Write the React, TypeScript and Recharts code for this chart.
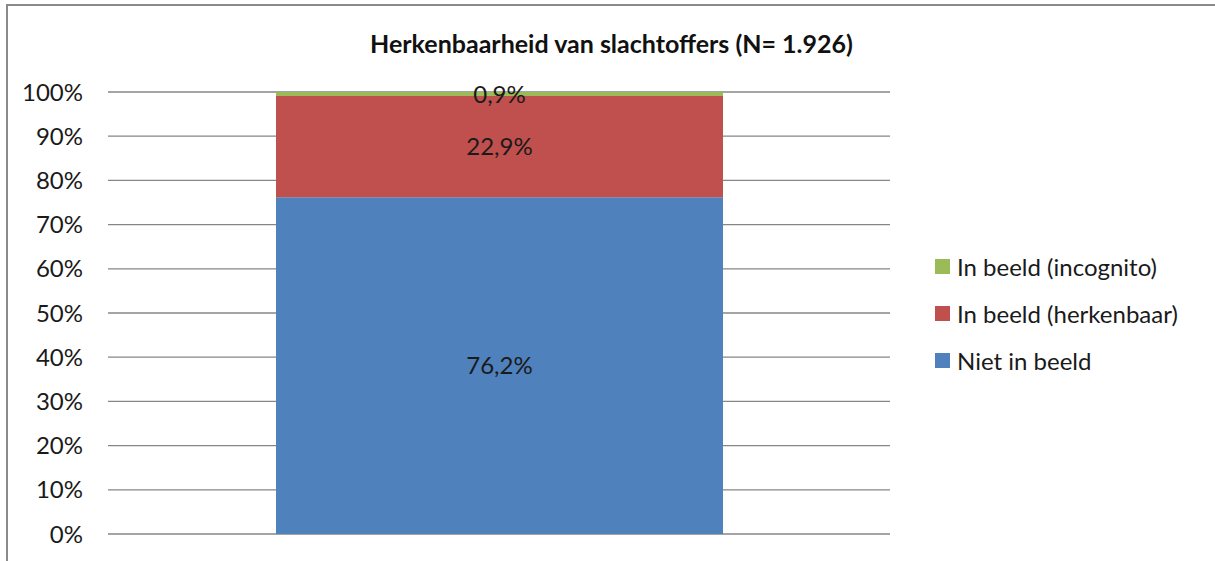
import { BarChart, Bar, XAxis, YAxis, CartesianGrid, LabelList } from "recharts"

const categories = ["Slachtoffers"];
const nietInBeeld = [76.2];
const herkenbaar = [22.9];
const incognito = [0.9];
const yTicks = [0, 10, 20, 30, 40, 50, 60, 70, 80, 90, 100];

const series = [
  { key: "niet", label: "Niet in beeld", color: "#4F81BD" },
  { key: "herkenbaar", label: "In beeld (herkenbaar)", color: "#C0504D" },
  { key: "incognito", label: "In beeld (incognito)", color: "#9BBB59" },
];

const data = categories.map((c, i) => ({
  name: c,
  niet: nietInBeeld[i],
  herkenbaar: herkenbaar[i],
  incognito: incognito[i],
}));

const font = "Lato, 'Open Sans', sans-serif";
const fmt = (v: number) => `${v.toFixed(1).replace(".", ",")}%`;

function LegendBox() {
  return (
    <div style={{ fontFamily: font, fontSize: 24, color: "#1a1a1a" }}>
      {[...series].reverse().map((s) => (
        <div key={s.key} style={{ display: "flex", alignItems: "center", height: 47 }}>
          <span style={{ width: 15, height: 15, background: s.color, marginRight: 7, display: "inline-block" }} />
          <span>{s.label}</span>
        </div>
      ))}
    </div>
  );
}

export default function App() {
  return (
    <div style={{ position: "fixed", left: 0, top: 0, width: 1215, height: 561, background: "#fff", overflow: "hidden" }}>
      <div
        style={{
          position: "absolute",
          left: 6,
          top: 4,
          width: 1300,
          height: 700,
          borderLeft: "2px solid #8a8a8a",
          borderTop: "2px solid #8a8a8a",
        }}
      />
      <div
        style={{
          position: "absolute",
          left: 8,
          width: 1207,
          top: 28,
          textAlign: "center",
          fontFamily: font,
          fontWeight: 700,
          fontSize: 25,
          color: "#111",
        }}
      >
        Herkenbaarheid van slachtoffers (N= 1.926)
      </div>
      <div style={{ position: "absolute", left: 0, top: 0 }}>
        <BarChart width={1215} height={561} data={data} margin={{ top: 92, right: 325, bottom: 27, left: 0 }}>
          <CartesianGrid vertical={false} stroke="#868686" strokeWidth={1.3} />
          <XAxis dataKey="name" hide />
          <YAxis
            width={108}
            domain={[0, 100]}
            ticks={yTicks}
            tickFormatter={(v) => `${v}%`}
            axisLine={false}
            tickLine={false}
            tickSize={0}
            tickMargin={25}
            tick={{ fill: "#1a1a1a", fontSize: 24, fontFamily: font }}
            interval={0}
          />
          {series.map((s) => (
            <Bar key={s.key} dataKey={s.key} stackId="a" fill={s.color} barSize={447} isAnimationActive={false}>
              <LabelList
                dataKey={s.key}
                position="center"
                formatter={(v: any) => fmt(Number(v))}
                style={{ fill: "#1a1a1a", fontSize: 24, fontFamily: font }}
              />
            </Bar>
          ))}
        </BarChart>
      </div>
      <div style={{ position: "absolute", left: 935, top: 243, width: 275 }}>
        <LegendBox />
      </div>
    </div>
  );
}
